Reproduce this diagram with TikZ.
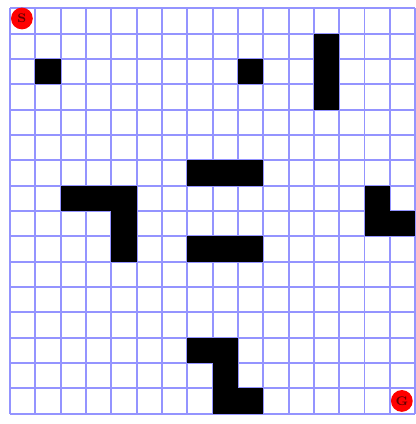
\documentclass[tikz,border=0pt]{standalone}
\usepackage{tikz}

\tikzset{
  gridline/.style={blue!42, line width=1pt},
  wall/.style={fill=black},
  endpoint/.style={circle, fill=red, inner sep=0pt, minimum size=0.43cm,
    text=red!40!black, font=\scriptsize\bfseries}
}

\begin{document}
\begin{tikzpicture}[x=0.5cm, y=-0.5cm]

        \useasboundingbox (-0.395,-0.33) rectangle (16.0,16.41);

        % Grid
        \foreach \x in {0,...,16}
          \draw[gridline] (\x,0) -- (\x,16);

        \foreach \y in {0,...,16}
          \draw[gridline] (0,\y) -- (16,\y);

        % Obstacles (column, row)
        \foreach \c/\r in {1/2, 9/2, 12/1, 12/2, 12/3,
                           7/6, 8/6, 9/6,
                           2/7, 3/7, 4/7, 4/8, 4/9,
                           7/9, 8/9, 9/9,
                           14/7, 14/8, 15/8,
                           7/13, 8/13, 8/14, 8/15, 9/15}
          \fill[wall] (\c,\r) rectangle (\c+1,\r+1);

        % Start and goal
        \node[endpoint] (start) at (0.47,0.4) {S};
        \node[endpoint] (goal) at (15.47,15.5) {G};

\end{tikzpicture}
\end{document}
